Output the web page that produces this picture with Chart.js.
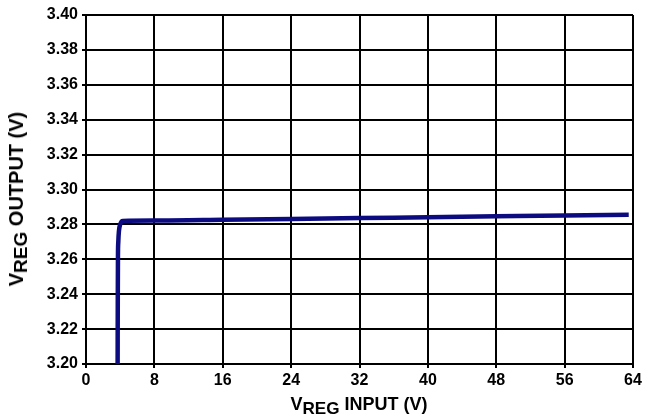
<!DOCTYPE html>
<html>
<head>
<meta charset="utf-8">
<script src="https://cdn.jsdelivr.net/npm/chart.js@4"></script>
<style>
  html, body { margin: 0; padding: 0; background: #fff; }
  .wrap { position: relative; width: 647px; height: 419px; font-family: "Liberation Sans", Arial, sans-serif; font-weight: bold; }
  canvas { position: absolute; left: 0; top: 0; }
  .xtitle { position: absolute; left: 0; width: 718px; top: 395px; text-align: center; font-size: 18px; line-height: 18px; }
  .ytitle { position: absolute; left: 16px; top: 199px; font-size: 20px; line-height: 20px; white-space: nowrap; transform: translate(-50%, -50%) rotate(-90deg); }
  sub { font-size: 0.95em; vertical-align: -4px; line-height: 0; }
</style>
</head>
<body>
<div class="wrap">
  <canvas id="c" width="647" height="419"></canvas>
  <div class="ytitle">V<sub>REG</sub> OUTPUT (V)</div>
  <div class="xtitle">V<sub>REG</sub> INPUT (V)</div>
</div>
<script>
const inputV = [3.7, 3.72, 3.74, 3.78, 3.85, 4.0, 4.3, 8, 16, 24, 32, 40, 48, 56, 63.5];
const outputV = [3.2, 3.24, 3.262, 3.27, 3.276, 3.28, 3.282, 3.2822, 3.2826, 3.2831, 3.2836, 3.2841, 3.2846, 3.2851, 3.2855];
const xTicks = [0, 8, 16, 24, 32, 40, 48, 56, 64];
const yTicks = [3.2, 3.22, 3.24, 3.26, 3.28, 3.3, 3.32, 3.34, 3.36, 3.38, 3.4];

const points = inputV.map((x, i) => ({ x: x, y: outputV[i] }));
const tickFont = { family: "Liberation Sans", size: 16, weight: "bold" };

new Chart(document.getElementById("c").getContext("2d"), {
  type: "line",
  data: {
    datasets: [
      {
        data: points,
        borderColor: "#0c0c80",
        borderWidth: 4.5,
        pointRadius: 0,
        cubicInterpolationMode: "monotone",
      },
    ],
  },
  options: {
    responsive: false,
    animation: false,
    layout: { padding: { top: 15, right: 14, left: 0, bottom: 0 } },
    plugins: { legend: { display: false }, tooltip: { enabled: false } },
    scales: {
      x: {
        type: "linear",
        min: 0,
        max: 64,
        afterBuildTicks: (s) => { s.ticks = xTicks.map((v) => ({ value: v })); },
        afterFit: (s) => { s.height = 55; },
        ticks: { color: "#000", font: tickFont, padding: 3 },
        grid: { color: "#000", lineWidth: 2, tickLength: 4 },
        border: { color: "#000", width: 2 },
      },
      y: {
        type: "linear",
        min: 3.2,
        max: 3.4,
        afterBuildTicks: (s) => { s.ticks = yTicks.map((v) => ({ value: v })); },
        afterFit: (s) => { s.width = 86; },
        ticks: { color: "#000", font: tickFont, padding: 4, callback: (v) => v.toFixed(2) },
        grid: { color: "#000", lineWidth: 2, tickLength: 4 },
        border: { color: "#000", width: 2 },
      },
    },
  },
});
</script>
</body>
</html>
